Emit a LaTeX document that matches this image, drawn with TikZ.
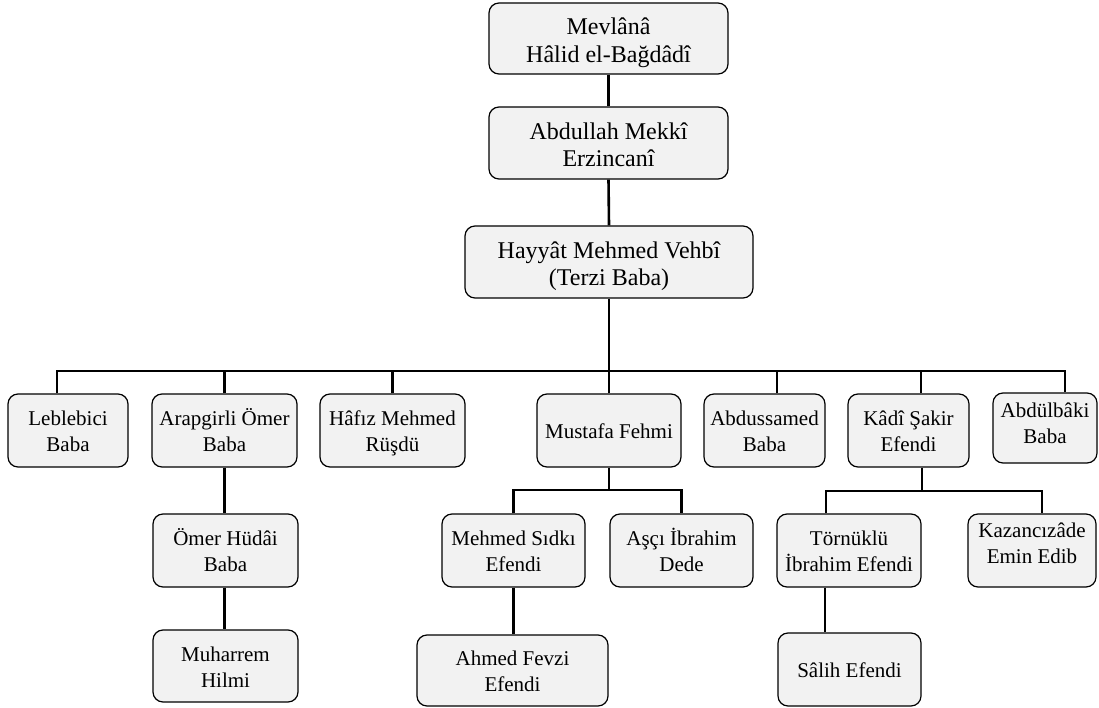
\documentclass[tikz,border=0pt]{standalone}
\usepackage{fontspec}
\setmainfont{Liberation Serif}
\definecolor{boxgray}{HTML}{F2F2F2}
\newcommand{\nmt}[2][-3pt]{\raisebox{#1}[\height][\depth]{\begin{tabular}{@{}c@{}}#2\end{tabular}}}
\begin{document}
\begin{tikzpicture}[x=1pt,y=-1pt,
  box/.style n args={2}{draw=black, line width=1.2pt, fill=boxgray, rounded corners=10pt,
    inner sep=0pt, minimum width=#1, minimum height=#2, font=\fontsize{21}{26}\selectfont},
  bigbox/.style n args={2}{box={#1}{#2}, font=\fontsize{24}{27.5}\selectfont},
  link/.style={line width=2.6pt}]
\fill[white] (0,0) rectangle (1099,708);
\useasboundingbox (0,0) rectangle (1099,708);

% top chain
\node[bigbox={239pt}{71pt}] (mev) at (608.5,38.5) {\nmt[-4.5pt]{Mevlânâ\\Hâlid el-Bağdâdî}};
\node[bigbox={239pt}{72pt}] (abd) at (608.5,143) {\nmt[-4.5pt]{Abdullah Mekkî\\Erzincanî}};
\node[bigbox={288pt}{72pt}] (hay) at (609,262) {\nmt[-4.5pt]{Hayyât Mehmed Vehbî\\(Terzi Baba)}};

% second level
\node[box={120pt}{73pt}] (leb) at (68,430.5) {\nmt{Leblebici\\Baba}};
\node[box={145pt}{73pt}] (ara) at (224.5,430.5) {\nmt{Arapgirli Ömer\\Baba}};
\node[box={145pt}{73pt}] (haf) at (392.5,430.5) {\nmt{Hâfız Mehmed\\Rüşdü}};
\node[box={144pt}{73pt}] (mus) at (609,430.5) {\nmt{Mustafa Fehmi}};
\node[box={121pt}{73pt}] (abs) at (764.5,430.5) {\nmt{Abdussamed\\Baba}};
\node[box={121pt}{73pt}] (kad) at (908.5,430.5) {\nmt{Kâdî Şakir\\Efendi}};
\node[box={104pt}{70pt}] (abb) at (1045,428) {\nmt[2.5pt]{Abdülbâki\\Baba}};

% third level
\node[box={145pt}{73pt}] (omh) at (225.5,550.5) {\nmt{Ömer Hüdâi\\Baba}};
\node[box={143pt}{73pt}] (mes) at (513.5,550.5) {\nmt{Mehmed Sıdkı\\Efendi}};
\node[box={143pt}{73pt}] (asc) at (681.5,550.5) {\nmt{Aşçı İbrahim\\Dede}};
\node[box={144pt}{73pt}] (tor) at (849,550.5) {\nmt{Törnüklü\\İbrahim Efendi}};
\node[box={128pt}{73pt}] (kaz) at (1032,550.5) {\nmt[5pt]{Kazancızâde\\Emin Edib}};

% fourth level
\node[box={145pt}{72pt}] (muh) at (225.5,666) {\nmt{Muharrem\\Hilmi}};
\node[box={191pt}{71pt}] (ahf) at (512.5,670.5) {\nmt{Ahmed Fevzi\\Efendi}};
\node[box={143pt}{73pt}] (sal) at (849.5,669.5) {\nmt{Sâlih Efendi}};

% bus levels
\coordinate (bus) at (0,371);
\coordinate (busb) at (0,490);
\coordinate (busc) at (0,491);

% connectors
\draw[link] (mev.south) -- (abd.north);
\draw[link] (abd.south) -- (hay.north);
\draw[link] (hay.south) -- (hay.south |- bus);
\draw[link] ([xshift=-11pt]leb.north) |- ([xshift=20pt]abb.north |- bus) -- ([xshift=20pt]abb.north);
\draw[link] (ara.north) -- (ara.north |- bus);
\draw[link] (haf.north) -- (haf.north |- bus);
\draw[link] (mus.north) -- (mus.north |- bus);
\draw[link] ([xshift=12.5pt]abs.north) -- ([xshift=12.5pt]abs.north |- bus);
\draw[link] ([xshift=12.5pt]kad.north) -- ([xshift=12.5pt]kad.north |- bus);

\draw[link] (ara.south) -- (ara.south |- omh.north);
\draw[link] (ara.south |- omh.south) -- (ara.south |- muh.north);

\draw[link] (mus.south) -- (mus.south |- busb);
\draw[link] (mes.north) |- (asc.north |- busb) -- (asc.north);
\draw[link] (mes.south) -- (mes.south |- ahf.north);

\draw[link] ([xshift=13.5pt]kad.south) -- ([xshift=13.5pt]kad.south |- busc);
\draw[link] ([xshift=-23pt]tor.north) |- ([xshift=10pt]kaz.north |- busc) -- ([xshift=10pt]kaz.north);
\draw[link] ([xshift=-24pt]tor.south) -- ([xshift=-24pt]tor.south |- sal.north);
\end{tikzpicture}
\end{document}
